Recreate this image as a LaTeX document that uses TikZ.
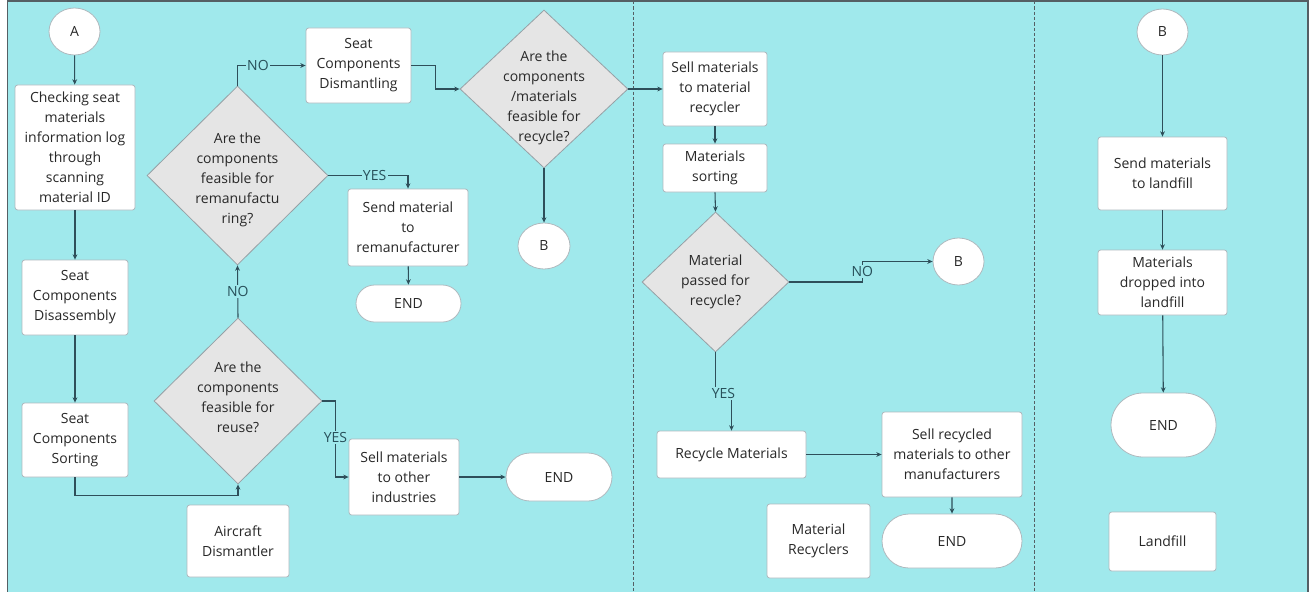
\documentclass[tikz,border=0pt]{standalone}
\usepackage{fontspec}
\setmainfont{Open Sans}
\usetikzlibrary{shapes.geometric,shapes.misc,arrows.meta}
\definecolor{lanebg}{RGB}{160,233,236}
\definecolor{framec}{RGB}{85,95,100}
\definecolor{linec}{RGB}{46,79,90}
\definecolor{boxline}{RGB}{175,185,190}
\definecolor{decfill}{RGB}{229,229,229}
\definecolor{decline}{RGB}{150,160,165}
\definecolor{txt}{RGB}{40,40,40}
\definecolor{lblc}{RGB}{40,80,90}
\tikzset{
  base/.style={font=\fontsize{10.5}{15}\selectfont, text=txt, align=center, inner sep=0pt},
  stepbox/.style={base, draw=boxline, line width=0.6pt, fill=white, rounded corners=2pt, rectangle},
  termin/.style={base, draw=boxline, line width=0.6pt, fill=white, rounded rectangle},
  conn/.style={base, draw=boxline, line width=0.6pt, fill=white, ellipse},
  decision/.style={draw=decline, line width=0.6pt, fill=decfill, diamond, inner sep=0pt},
  dtext/.style={base},
  arr/.style={draw=linec, line width=0.8pt, -{Stealth[length=4pt,width=3.6pt]}},
  lbl/.style={font=\fontsize{10.5}{12}\selectfont, text=lblc, fill=lanebg, inner sep=1pt},
  lanediv/.style={draw=framec, line width=0.6pt, dash pattern=on 2.5pt off 1.5pt}
}
\begin{document}
\begin{tikzpicture}[x=0.75pt,y=-0.75pt]
\useasboundingbox (0,0) rectangle (1316,592);
\clip (0,0) rectangle (1316,592);
% background frame and lane dividers
\fill[white] (0,0) rectangle (1316,592);
\draw[fill=lanebg, draw=framec, line width=1.2pt] (7.5,0.8) rectangle (1308,610);
\draw[lanediv] (633,1) -- (633,592);
\draw[lanediv] (1034,1) -- (1034,592);

% ---- Aircraft dismantler lane ----
\node[conn, minimum width=38.25pt, minimum height=35.25pt] (A) at (74.5,31.5) {A};
\node[stepbox, minimum width=90pt, minimum height=93.75pt] (check) at (75,147.5)
  {Checking seat\\materials\\information log\\through\\scanning\\material ID};
\node[stepbox, minimum width=79.5pt, minimum height=56.25pt] (disasm) at (75,297.5)
  {Seat\\Components\\Disassembly};
\node[stepbox, minimum width=79.5pt, minimum height=55.5pt] (sort) at (75,440)
  {Seat\\Components\\Sorting};
\node[decision, minimum width=126pt, minimum height=124.5pt] (reuse) at (238,401) {};
\node[dtext] (reuseT) at (238,397) {Are the\\components\\feasible for\\reuse?};
\node[decision, minimum width=135.75pt, minimum height=134.25pt] (remfg) at (237.5,175.5) {};
\node[dtext] (remfgT) at (237.5,180) {Are the\\components\\feasible for\\remanufactu\\ring?};
\node[stepbox, minimum width=78.75pt, minimum height=56.25pt] (dism) at (358.5,65.5)
  {Seat\\Components\\Dismantling};
\node[decision, minimum width=126pt, minimum height=118.5pt] (recyc) at (544,89) {};
\node[dtext] (recycT) at (544,98) {Are the\\components\\/materials\\feasible for\\recycle?};
\node[conn, minimum width=39pt, minimum height=34.5pt] (B1) at (544,246) {B};
\node[stepbox, minimum width=90pt, minimum height=57.75pt] (send) at (408,227.5)
  {Send material\\to\\remanufacturer};
\node[termin, minimum width=78.75pt, minimum height=27.75pt] (end1) at (408.5,303.5) {END};
\node[stepbox, minimum width=82.5pt, minimum height=57pt] (sellot) at (404,477)
  {Sell materials\\to other\\industries};
\node[termin, minimum width=79.5pt, minimum height=36pt] (end2) at (559,477) {END};
\node[stepbox, minimum width=76.5pt, minimum height=54pt] (aircraft) at (238,541)
  {Aircraft\\Dismantler};

% ---- Material recyclers lane ----
\node[stepbox, minimum width=78pt, minimum height=55.5pt] (sellrec) at (715,89)
  {Sell materials\\to material\\recycler};
\node[stepbox, minimum width=78pt, minimum height=36pt] (msort) at (715,168)
  {Materials\\sorting};
\node[decision, minimum width=110.25pt, minimum height=105pt] (mpass) at (715.5,282) {};
\node[dtext] (mpassT) at (715.5,282) {Material\\passed for\\recycle?};
\node[conn, minimum width=38.25pt, minimum height=35.25pt] (B2) at (958.5,261.5) {B};
\node[stepbox, minimum width=111.75pt, minimum height=35.25pt] (recmat) at (731.5,454.5)
  {Recycle Materials};
\node[stepbox, minimum width=105pt, minimum height=63.75pt] (sellrc) at (952,454.5)
  {Sell recycled\\materials to other\\manufacturers};
\node[termin, minimum width=105pt, minimum height=40.5pt] (end3) at (952,541) {END};
\node[stepbox, minimum width=77.25pt, minimum height=55.5pt] (mrec) at (818.5,541)
  {Material\\Recyclers};

% ---- Landfill lane ----
\node[conn, minimum width=38.25pt, minimum height=34.5pt] (B3) at (1162.5,32) {B};
\node[stepbox, minimum width=96.75pt, minimum height=54.75pt] (sendl) at (1162.5,173.5)
  {Send materials\\to landfill};
\node[stepbox, minimum width=96.75pt, minimum height=48.75pt] (drop) at (1162.5,282.5)
  {Materials\\dropped into\\landfill};
\node[termin, minimum width=78.75pt, minimum height=48pt] (end4) at (1163.5,425) {END};
\node[stepbox, minimum width=80.25pt, minimum height=44.25pt] (landfill) at (1162.5,541.5)
  {Landfill};

% ---- connectors ----
\draw[arr] (A) -- (check);
\draw[arr] (check) -- (disasm);
\draw[arr] (disasm) -- (sort);
\draw[arr] (sort.south) -- ++(0,18) -| (reuse.south);
\draw[arr] (reuse.north) -- node[lbl, midway] {NO} (remfg.south);
\draw[arr] (remfg.north) |- node[lbl, pos=0.65] {NO} (dism.west);
\draw[arr] (dism.east) -- ++(24,0) |- (recyc.west);
\draw[arr] (recyc.east) -- (sellrec.west);
\draw[arr] (recyc.south) -- (B1.north);
\draw[arr] (remfg.east) -| node[lbl, pos=0.29] {YES} (send.north);
\draw[arr] (send) -- (end1);
\draw[arr] (reuse.east) -- ++(13,0) |- node[lbl, pos=0.24] {YES} (sellot.west);
\draw[arr] (sellot) -- (end2);

\draw[arr] (sellrec) -- (msort);
\draw[arr] (msort.south) -- (mpass.north);
\draw[arr] (mpass.east) -- ++(73,0) |- node[lbl, pos=0.25] {NO} (B2.west);
\draw[arr] (mpass.south) -- ++(0,41) -| node[lbl, pos=0.25] {YES} (recmat.north);
\draw[arr] (recmat) -- (sellrc);
\draw[arr] (sellrc) -- (end3);

\draw[arr] (B3) -- (sendl);
\draw[arr] (sendl) -- (drop);
\draw[arr] (drop) -- (end4);
\end{tikzpicture}
\end{document}
